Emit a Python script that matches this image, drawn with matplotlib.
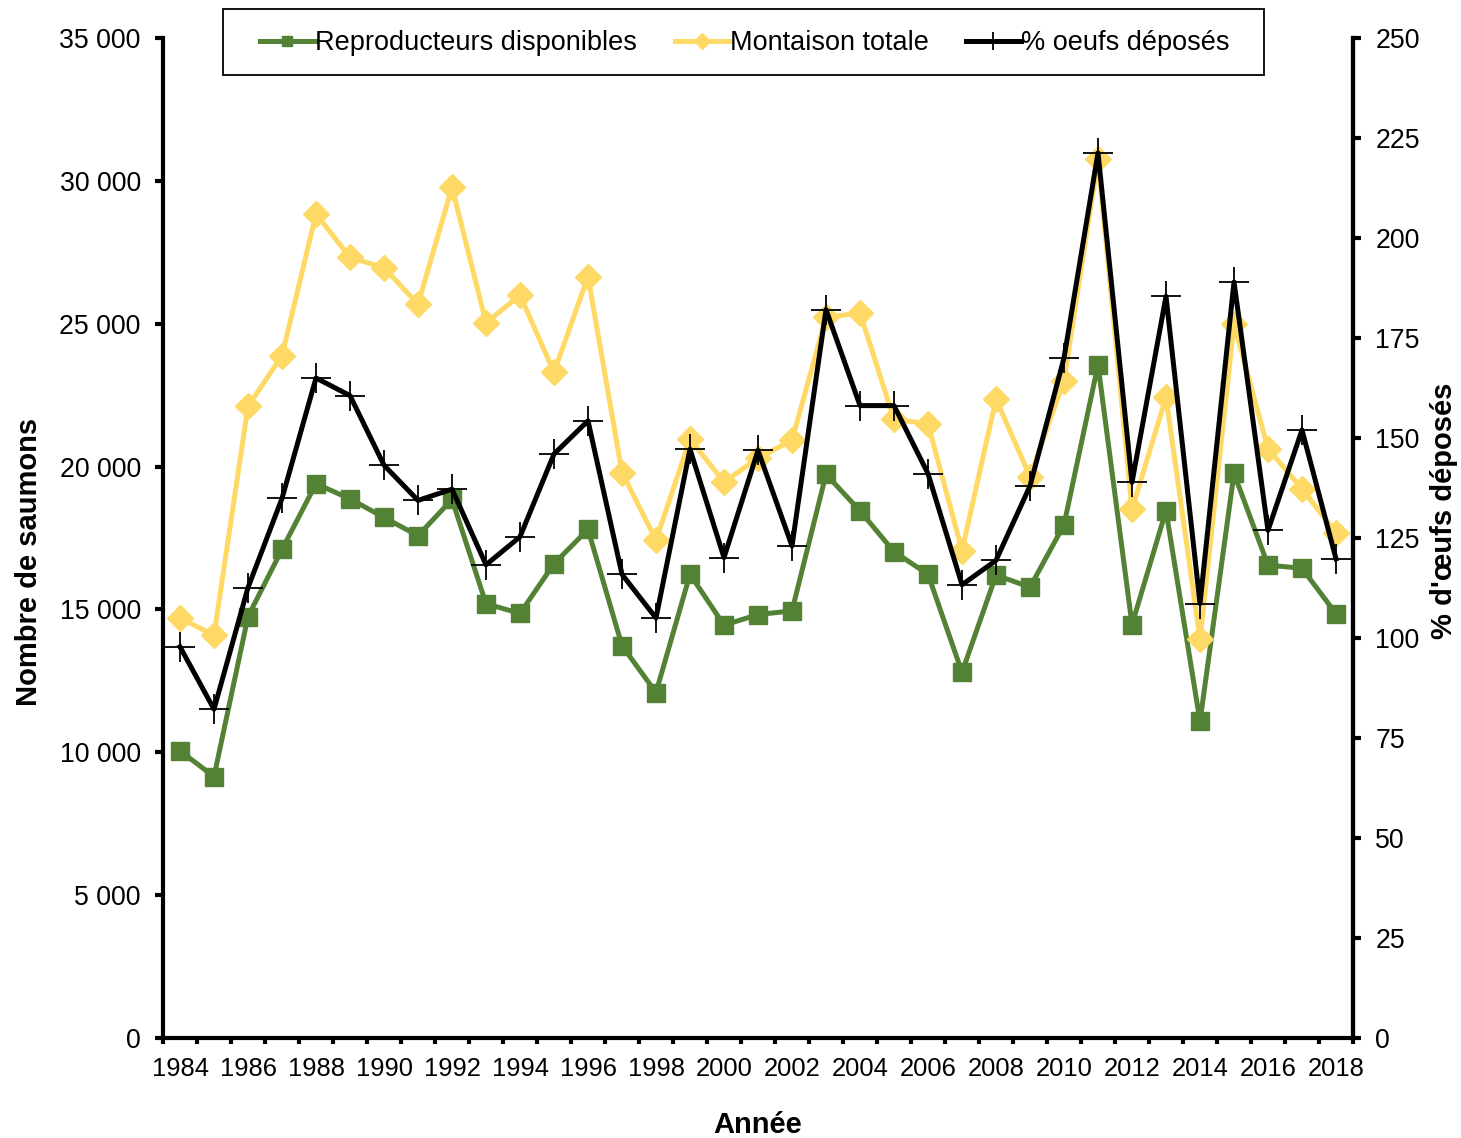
import numpy as np
import matplotlib.pyplot as plt
from matplotlib.patches import Rectangle
from matplotlib.ticker import FuncFormatter, FixedLocator

plt.rcParams['font.family'] = ['Liberation Sans', 'DejaVu Sans']

years = list(range(1984, 2019))

# Reproducteurs disponibles (nombre de saumons)
reproducteurs = [10050, 9150, 14750, 17100, 19400, 18870, 18220, 17580, 18850, 15200,
                 14860, 16600, 17800, 13730, 12090, 16230, 14450, 14820, 14950, 19730,
                 18450, 17020, 16230, 12800, 16200, 15780, 17960, 23560, 14470, 18460,
                 11080, 19760, 16550, 16440, 14850]

# Montaison totale (nombre de saumons)
montaison = [14700, 14100, 22110, 23880, 28840, 27320, 26960, 25680, 29780, 25030,
             26000, 23300, 26650, 19790, 17430, 20960, 19460, 20300, 20920, 25220,
             25380, 21650, 21500, 17060, 22360, 19650, 23010, 30750, 18500, 22430,
             13960, 25000, 20620, 19220, 17680]

# % oeufs déposés (axe de droite)
pct_oeufs = [97.8, 82.2, 112.6, 134.9, 165.0, 160.6, 143.2, 134.4, 137.2, 118.3,
             125.3, 146.0, 154.3, 115.9, 105.0, 147.2, 120.1, 146.9, 123.0, 182.1,
             158.1, 158.1, 141.1, 113.3, 119.4, 138.0, 170.0, 221.3, 138.9, 185.4,
             108.6, 189.0, 126.9, 152.0, 119.8]

green = '#548235'
yellow = '#FFD966'

fig = plt.figure(figsize=(14.61, 11.38), dpi=100)
ax = fig.add_axes([163/1461, 1-1038/1138, (1353-163)/1461, 1000/1138])
ax2 = ax.twinx()

x = np.arange(len(years))
l1, = ax.plot(x, reproducteurs, color=green, lw=3.6, marker='s', ms=13,
              label='Reproducteurs disponibles', zorder=3)
l2, = ax.plot(x, montaison, color=yellow, lw=3.6, marker='D', ms=13,
              label='Montaison totale', zorder=4)
l3, = ax2.plot(x, pct_oeufs, color='black', lw=3.6, marker='+', ms=21, mew=1.3,
               label='% oeufs déposés', zorder=5)

ax.set_xlim(-0.5, len(years) - 0.5)
ax.set_ylim(0, 35000)
ax2.set_ylim(0, 250)
ax.set_yticks(np.arange(0, 35001, 5000))
ax2.set_yticks(np.arange(0, 251, 25))
ax.yaxis.set_major_formatter(FuncFormatter(lambda v, p: f'{int(v):,}'.replace(',', ' ')))

# ticks between categories, labels every other year
ax.xaxis.set_major_locator(FixedLocator(np.arange(-0.5, len(years), 1.0)))
ax.xaxis.set_major_formatter(FuncFormatter(lambda v, p: ''))
ax.set_xticks(x[::2], minor=True)
ax.set_xticklabels([str(y) for y in years[::2]], minor=True)
ax.tick_params(axis='x', which='major', direction='out', length=4, width=3)
ax.tick_params(axis='x', which='minor', length=0, pad=14, labelsize=18.4)
ax.tick_params(axis='y', direction='out', length=6, width=3, pad=10, labelsize=19.2)
ax2.tick_params(axis='y', direction='out', length=6, width=3, pad=10, labelsize=19.2)

for a in (ax, ax2):
    a.spines['top'].set_visible(False)
    for s in ('left', 'right', 'bottom'):
        a.spines[s].set_linewidth(3)
ax2.spines['left'].set_visible(False)
ax2.spines['bottom'].set_visible(False)

ax.set_xlabel('Année', fontsize=21, fontweight='bold', labelpad=21)
ax.set_ylabel('Nombre de saumons', fontsize=21, fontweight='bold', labelpad=12)
ax2.set_ylabel("% d'œufs déposés", fontsize=21, fontweight='bold', labelpad=7)
ax.yaxis.label.set_y(0.476)
ax2.yaxis.label.set_y(0.527)

# legend box
fig.patches.append(Rectangle((223/1461, 1-75/1138), (1264-223)/1461, 66/1138,
                             transform=fig.transFigure, facecolor='white',
                             edgecolor='black', linewidth=1.3, zorder=4))
leg = fig.legend(handles=[l1, l2, l3], loc='center', ncol=3,
                 bbox_to_anchor=(745/1461, 1-43.5/1138), fontsize=19.5,
                 frameon=False, borderaxespad=0, borderpad=0,
                 handlelength=2.0, handletextpad=0.02, columnspacing=1.4,
                 markerscale=0.6)
leg.set_zorder(6)

fig.savefig('out.png', dpi=100)
